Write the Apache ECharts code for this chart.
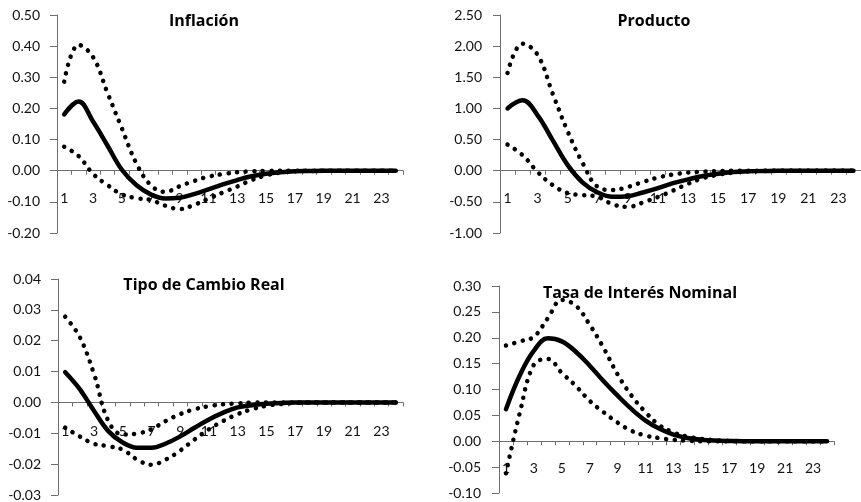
<!DOCTYPE html>
<html>
<head>
<meta charset="utf-8">
<script src="https://cdn.jsdelivr.net/npm/echarts@6/dist/echarts.min.js"></script>
<style>
html,body{margin:0;padding:0;background:#fff;}
#chart{width:861px;height:502px;}
</style>
</head>
<body>
<div id="chart"></div>
<script>
var categories = ['1','2','3','4','5','6','7','8','9','10','11','12','13','14','15','16','17','18','19','20','21','22','23','24'];

var titles = ['Inflación', 'Producto', 'Tipo de Cambio Real', 'Tasa de Interés Nominal'];

// Inflación
var inflMid = [0.181, 0.222, 0.158, 0.081, 0.003, -0.046, -0.076, -0.089, -0.087, -0.075, -0.060, -0.044, -0.030, -0.018, -0.010, -0.005, -0.002, -0.001, 0, 0, 0, 0, 0, 0];
var inflUp  = [0.286, 0.404, 0.365, 0.250, 0.136, 0.024, -0.046, -0.068, -0.050, -0.033, -0.019, -0.011, -0.005, -0.002, -0.001, 0, 0, 0, 0, 0, 0, 0, 0, 0];
var inflLo  = [0.077, 0.047, -0.010, -0.046, -0.076, -0.088, -0.094, -0.112, -0.123, -0.110, -0.090, -0.070, -0.051, -0.030, -0.015, -0.006, -0.002, -0.001, 0, 0, 0, 0, 0, 0];

// Producto
var prodMid = [1.00, 1.13, 0.89, 0.49, 0.09, -0.19, -0.35, -0.42, -0.41, -0.35, -0.28, -0.20, -0.14, -0.086, -0.05, -0.02, -0.01, -0.005, 0, 0, 0, 0, 0, 0];
var prodUp  = [1.57, 2.04, 1.86, 1.24, 0.63, 0.12, -0.26, -0.31, -0.26, -0.18, -0.11, -0.06, -0.03, -0.015, -0.005, 0, 0, 0, 0, 0, 0, 0, 0, 0];
var prodLo  = [0.42, 0.25, -0.02, -0.23, -0.36, -0.39, -0.42, -0.54, -0.58, -0.51, -0.42, -0.32, -0.21, -0.12, -0.065, -0.03, -0.012, -0.005, 0, 0, 0, 0, 0, 0];

// Tipo de Cambio Real
var tcrMid = [0.0098, 0.0044, -0.0027, -0.0093, -0.0130, -0.0147, -0.0147, -0.0133, -0.0110, -0.0082, -0.0055, -0.0033, -0.0016, -0.0009, -0.0004, -0.0002, 0, 0, 0, 0, 0, 0, 0, 0];
var tcrUp  = [0.0278, 0.0213, 0.0093, -0.0060, -0.0104, -0.0101, -0.0087, -0.0060, -0.0038, -0.0022, -0.0012, -0.0006, -0.0003, -0.0001, 0, 0, 0, 0, 0, 0, 0, 0, 0, 0];
var tcrLo  = [-0.0082, -0.0110, -0.0134, -0.0142, -0.0153, -0.0185, -0.0202, -0.0185, -0.0156, -0.0120, -0.0087, -0.0060, -0.0038, -0.0022, -0.0011, -0.0005, -0.0002, 0, 0, 0, 0, 0, 0, 0];

// Tasa de Interés Nominal
var tinMid = [0.062, 0.128, 0.175, 0.199, 0.193, 0.173, 0.146, 0.116, 0.088, 0.062, 0.040, 0.024, 0.013, 0.0064, 0.003, 0.0013, 0.0005, 0, 0, 0, 0, 0, 0, 0];
var tinUp  = [0.185, 0.193, 0.202, 0.238, 0.273, 0.262, 0.225, 0.180, 0.129, 0.088, 0.056, 0.031, 0.017, 0.009, 0.0045, 0.002, 0.001, 0, 0, 0, 0, 0, 0, 0];
var tinLo  = [-0.062, 0.056, 0.148, 0.159, 0.132, 0.107, 0.078, 0.056, 0.036, 0.020, 0.011, 0.006, 0.0026, 0.001, 0, 0, 0, 0, 0, 0, 0, 0, 0, 0];

var yMin = [-0.2, -1.0, -0.03, -0.10];
var yMax = [0.5, 2.5, 0.04, 0.30];
var yStep = [0.1, 0.5, 0.01, 0.05];

var panelData = [
  [inflMid, inflUp, inflLo],
  [prodMid, prodUp, prodLo],
  [tcrMid, tcrUp, tcrLo],
  [tinMid, tinUp, tinLo]
];

var grids = [
  {left: 57, top: 15, width: 346, height: 218},
  {left: 500, top: 15, width: 361, height: 218},
  {left: 58, top: 279, width: 345, height: 216},
  {left: 499, top: 286, width: 335, height: 207}
];
var titlePos = [[204, 21], [654, 21], [204, 285], [640, 293]];
var xLabelMargin = [21, 21, 22, 20];
var yLabelMargin = [17, 18, 17, 18];

var FONT = 'Lato, "Open Sans", sans-serif';
var TITLE_FONT = '"Open Sans", Lato, sans-serif';
var AXIS_COLOR = '#6e6e6e';

var xAxes = [], yAxes = [], series = [], graphics = [];
for (var i = 0; i < 4; i++) {
  // place the category axis on the value 0 of its value axis
  var zeroOffset = -grids[i].height * (0 - yMin[i]) / (yMax[i] - yMin[i]);
  xAxes.push({
    type: 'category', gridIndex: i, data: categories, boundaryGap: true,
    position: 'bottom', offset: zeroOffset,
    axisLine: {onZero: false, lineStyle: {color: AXIS_COLOR, width: 1}},
    axisTick: {show: true, interval: 0, length: 4, lineStyle: {color: AXIS_COLOR}},
    axisLabel: {interval: 1, margin: xLabelMargin[i], color: '#111', fontSize: 14, fontFamily: FONT},
    splitLine: {show: false}
  });
  yAxes.push({
    type: 'value', gridIndex: i, min: yMin[i], max: yMax[i], interval: yStep[i],
    axisLine: {show: true, lineStyle: {color: AXIS_COLOR, width: 1}},
    axisTick: {show: true, length: 7, lineStyle: {color: AXIS_COLOR}},
    axisLabel: {margin: yLabelMargin[i], color: '#111', fontSize: 14, fontFamily: FONT,
      formatter: function (v) { return (Math.abs(v) < 1e-9 ? 0 : v).toFixed(2); }},
    splitLine: {show: false}
  });
  var d = panelData[i];
  series.push({
    type: 'line', xAxisIndex: i, yAxisIndex: i, data: d[1], smooth: 0.4, symbol: 'none',
    lineStyle: {color: '#000', width: 4.5, type: [0.1, 8.5], cap: 'round'}, z: 2
  });
  series.push({
    type: 'line', xAxisIndex: i, yAxisIndex: i, data: d[2], smooth: 0.4, symbol: 'none',
    lineStyle: {color: '#000', width: 4.5, type: [0.1, 8.5], cap: 'round'}, z: 2
  });
  series.push({
    type: 'line', xAxisIndex: i, yAxisIndex: i, data: d[0], smooth: 0.4, symbol: 'none',
    lineStyle: {color: '#000', width: 4.5, type: 'solid', cap: 'round'}, z: 3
  });
  graphics.push({
    type: 'text', x: titlePos[i][0], y: titlePos[i][1], z: 10,
    style: {text: titles[i], fill: '#000', fontSize: 16, fontWeight: 'bold', fontFamily: TITLE_FONT,
      align: 'center', verticalAlign: 'middle'}
  });
}

var chart = echarts.init(document.getElementById('chart'), null, {renderer: 'canvas'});
chart.setOption({
  animation: false,
  backgroundColor: '#fff',
  grid: grids,
  xAxis: xAxes,
  yAxis: yAxes,
  series: series,
  graphic: graphics
});
</script>
</body>
</html>
